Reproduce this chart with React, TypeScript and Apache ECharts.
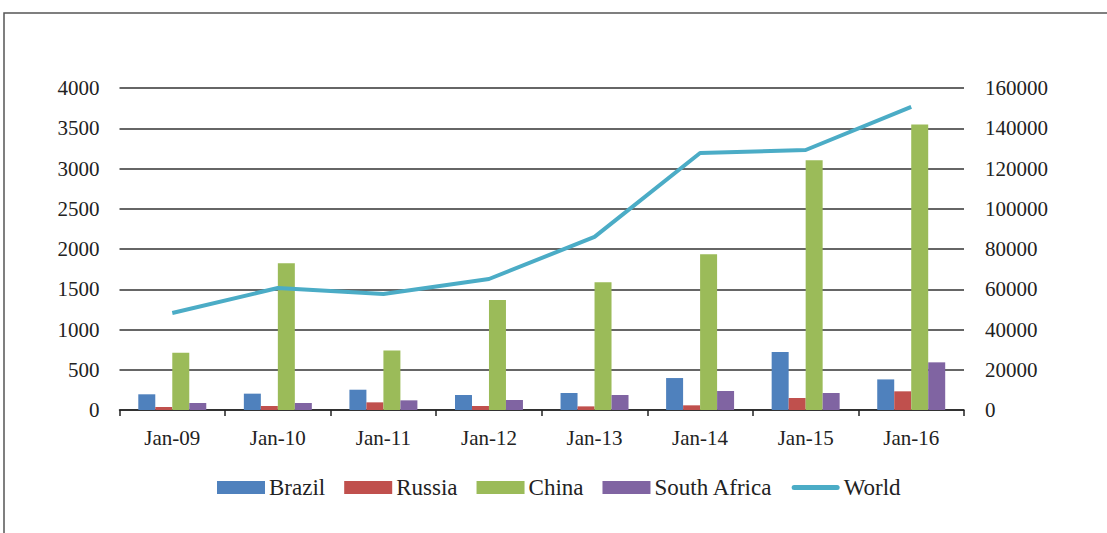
import React, { useEffect, useRef } from "react";
import * as echarts from "echarts";

const categories = ["Jan-09", "Jan-10", "Jan-11", "Jan-12", "Jan-13", "Jan-14", "Jan-15", "Jan-16"];
const brazil = [195, 203, 252, 186, 211, 397, 720, 380];
const russia = [37, 50, 95, 50, 45, 58, 149, 232];
const china = [711, 1824, 740, 1365, 1588, 1935, 3101, 3548];
const southAfrica = [87, 87, 120, 124, 186, 236, 211, 592];
const world = [48200, 60600, 57600, 65100, 86000, 127700, 129200, 150600];

const FONT = "'Liberation Serif', 'DejaVu Serif', serif";

export default function App() {
  const ref = useRef<HTMLDivElement>(null);
  useEffect(() => {
    document.body.style.margin = "0";
    const chart = echarts.init(ref.current!, null, { renderer: "svg" });
    const barSeries = (name: string, data: number[], color: string) => ({
      name,
      type: "bar",
      data,
      yAxisIndex: 0,
      barGap: "0%",
      barCategoryGap: "35.6%",
      itemStyle: { color },
    });
    chart.setOption({
      animation: false,
      backgroundColor: "#ffffff",
      textStyle: { fontFamily: FONT },
      graphic: [
        {
          type: "rect",
          shape: { x: 4, y: 13, width: 1200, height: 600 },
          style: { fill: "none", stroke: "#555", lineWidth: 1.5 },
          silent: true,
        },
      ],
      grid: { left: 119.5, right: 143, top: 88, bottom: 123 },
      legend: {
        top: 471,
        left: 212,
        itemWidth: 48,
        itemHeight: 13,
        itemGap: 19,
        textStyle: { fontFamily: FONT, fontSize: 23, color: "#222", padding: [0, 0, 0, -1] },
        data: [
          { name: "Brazil", icon: "rect" },
          { name: "Russia", icon: "rect" },
          { name: "China", icon: "rect" },
          { name: "South Africa", icon: "rect" },
          { name: "World", icon: "path://M2.5,0 H45.5 A2.5,2.5 0 0 1 45.5,5 H2.5 A2.5,2.5 0 0 1 2.5,0 Z" },
        ],
      },
      xAxis: {
        type: "category",
        data: categories,
        axisLine: { lineStyle: { color: "#222", width: 1.5 } },
        axisTick: { show: true, length: 6, lineStyle: { color: "#222", width: 1.5 } },
        axisLabel: { fontFamily: FONT, fontSize: 21, color: "#222", margin: 17 },
      },
      yAxis: [
        {
          type: "value",
          min: 0,
          max: 4000,
          interval: 500,
          axisLine: { show: false },
          axisTick: { show: false },
          splitLine: { lineStyle: { color: "#333", width: 1.5 } },
          axisLabel: { fontFamily: FONT, fontSize: 21, color: "#222", margin: 20, formatter: (v: number) => String(v) },
        },
        {
          type: "value",
          min: 0,
          max: 160000,
          interval: 20000,
          axisLine: { show: false },
          axisTick: { show: false },
          splitLine: { show: false },
          axisLabel: { fontFamily: FONT, fontSize: 21, color: "#222", margin: 21, formatter: (v: number) => String(v) },
        },
      ],
      series: [
        barSeries("Brazil", brazil, "#4F81BD"),
        barSeries("Russia", russia, "#C0504D"),
        barSeries("China", china, "#9BBB59"),
        barSeries("South Africa", southAfrica, "#8064A2"),
        {
          name: "World",
          type: "line",
          yAxisIndex: 1,
          data: world,
          symbol: "none",
          lineStyle: { color: "#4BACC6", width: 4 },
          itemStyle: { color: "#4BACC6" },
        },
      ],
    });
    return () => chart.dispose();
  }, []);
  return <div ref={ref} style={{ width: 1107, height: 533 }} />;
}
